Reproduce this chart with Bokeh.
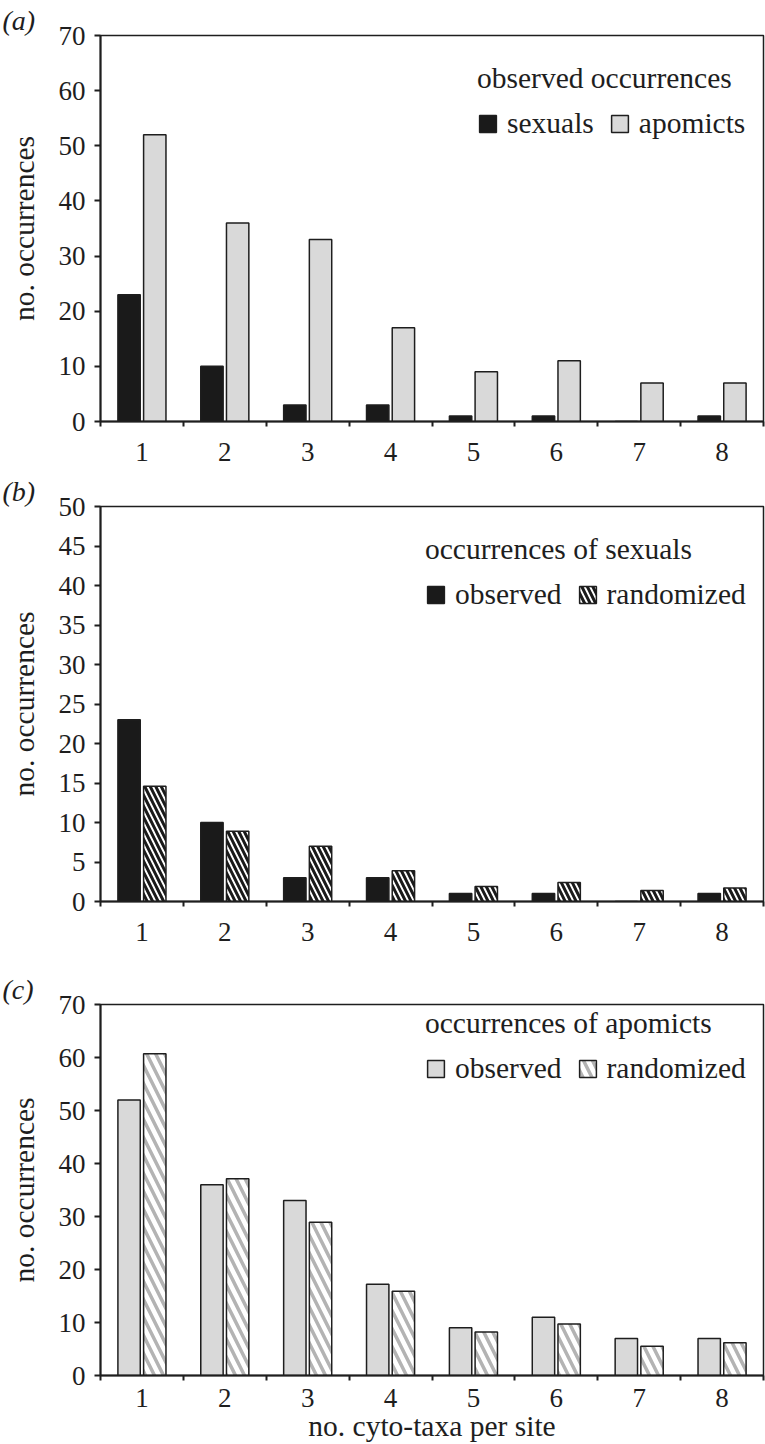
from bokeh.plotting import figure
from bokeh.models import FixedTicker, Legend, LegendItem, ColumnDataSource
from bokeh.layouts import column
from bokeh.transform import dodge
from bokeh.embed import file_html
from bokeh.resources import INLINE

# ---------------- data ----------------
sites = [1, 2, 3, 4, 5, 6, 7, 8]
site_bounds = [0.5, 1.5, 2.5, 3.5, 4.5, 5.5, 6.5, 7.5, 8.5]

a_sexuals = [23, 10, 3, 3, 1, 1, 0, 1]
a_apomicts = [52, 36, 33, 17, 9, 11, 7, 7]

b_observed = [23, 10, 3, 3, 1, 1, 0, 1]
b_randomized = [14.6, 8.9, 7.0, 3.9, 1.9, 2.4, 1.4, 1.7]

c_observed = [52, 36, 33, 17.2, 9, 11, 7, 7]
c_randomized = [60.7, 37.1, 28.9, 15.9, 8.2, 9.7, 5.5, 6.2]

a_yticks = [0, 10, 20, 30, 40, 50, 60, 70]
b_yticks = [0, 5, 10, 15, 20, 25, 30, 35, 40, 45, 50]
c_yticks = [0, 10, 20, 30, 40, 50, 60, 70]

FONT = "Liberation Serif, Times New Roman, DejaVu Serif, serif"
INK = "#1e1e1e"
BLACK_BAR = "#1a1a1a"
GRAY_BAR = "#d9d9d9"
HATCH_GRAY = "#b3b3b3"
BAR_W = 0.27
OFF = 0.155


def make_fig(height, top, bottom, ymax, yticks, tag, xlabel=None):
    p = figure(width=765, height=height, x_range=(0.5, 8.5), y_range=(0, ymax),
               output_backend="svg", toolbar_location=None, title=tag,
               min_border_left=100, min_border_right=2,
               min_border_top=top, min_border_bottom=bottom)
    p.grid.visible = False
    p.background_fill_color = "white"
    p.border_fill_color = "white"
    p.outline_line_color = INK
    p.outline_line_width = 1.5

    t = p.title
    t.align = "left"
    t.offset = -98
    t.standoff = 0
    t.text_font = FONT
    t.text_font_size = "28px"
    t.text_font_style = "italic"
    t.text_color = INK

    xa = p.xaxis[0]
    xa.ticker = FixedTicker(ticks=sites, minor_ticks=site_bounds)
    xa.major_tick_line_color = None
    xa.minor_tick_line_color = INK
    xa.minor_tick_line_width = 2
    xa.minor_tick_out = 5
    xa.minor_tick_in = 0
    xa.axis_line_color = INK
    xa.axis_line_width = 2
    xa.major_label_text_font = FONT
    xa.major_label_text_font_size = "27px"
    xa.major_label_text_color = INK
    xa.major_label_standoff = 15
    if xlabel:
        xa.major_label_standoff = 7
        xa.axis_label = xlabel
        xa.axis_label_text_font = FONT
        xa.axis_label_text_font_size = "29.5px"
        xa.axis_label_text_font_style = "normal"
        xa.axis_label_text_color = INK
        xa.axis_label_standoff = 0

    ya = p.yaxis[0]
    ya.ticker = FixedTicker(ticks=yticks)
    ya.axis_line_color = INK
    ya.axis_line_width = 2
    ya.major_tick_line_color = INK
    ya.major_tick_line_width = 2
    ya.major_tick_out = 6
    ya.major_tick_in = 0
    ya.minor_tick_line_color = None
    ya.major_label_text_font = FONT
    ya.major_label_text_font_size = "27px"
    ya.major_label_text_color = INK
    ya.major_label_standoff = 9
    ya.axis_label = "no. occurrences"
    ya.axis_label_text_font = FONT
    ya.axis_label_text_font_size = "29.5px"
    ya.axis_label_text_font_style = "normal"
    ya.axis_label_text_color = INK
    ya.axis_label_standoff = 16
    return p


def add_legend(p, title, items, vx, vy):
    leg = Legend(items=[LegendItem(label=l, renderers=[r]) for l, r in items],
                 orientation="horizontal", location=(vx, vy), title=title,
                 title_text_font=FONT, title_text_font_size="29.5px",
                 title_text_font_style="normal", title_text_color=INK, title_standoff=12,
                 label_text_font=FONT, label_text_font_size="29.5px", label_text_color=INK,
                 glyph_width=21, glyph_height=21, label_standoff=9, spacing=15,
                 padding=0, margin=0, border_line_color=None, background_fill_alpha=0)
    p.add_layout(leg)


# ---------------- panel (a) ----------------
pa = make_fig(471, 35, 50, 70, a_yticks, "(a)")
src_a = ColumnDataSource(dict(site=sites, sex=a_sexuals, apo=a_apomicts))
ra1 = pa.vbar(x=dodge("site", -OFF), top="sex", width=BAR_W, source=src_a,
              fill_color=BLACK_BAR, line_color=INK, line_width=1.5)
ra2 = pa.vbar(x=dodge("site", OFF), top="apo", width=BAR_W, source=src_a,
              fill_color=GRAY_BAR, line_color=INK, line_width=1.5)
add_legend(pa, "observed occurrences", [("sexuals", ra1), ("apomicts", ra2)], 377, 281)

# ---------------- panel (b) ----------------
pb = make_fig(480, 35, 50, 50, b_yticks, "(b)")
src_b = ColumnDataSource(dict(site=sites, obs=b_observed, rnd=b_randomized))
rb1 = pb.vbar(x=dodge("site", -OFF), top="obs", width=BAR_W, source=src_b,
              fill_color=BLACK_BAR, line_color=INK, line_width=1.5)
rb2 = pb.vbar(x=dodge("site", OFF), top="rnd", width=BAR_W, source=src_b,
              fill_color="white", line_color=INK, line_width=1.5,
              hatch_pattern="left_diagonal_line", hatch_color=BLACK_BAR,
              hatch_weight=3, hatch_scale=11)
add_legend(pb, "occurrences of sexuals", [("observed", rb1), ("randomized", rb2)], 325, 290)

# ---------------- panel (c) ----------------
pc = make_fig(493, 53, 57, 70, c_yticks, "(c)", xlabel="no. cyto-taxa per site")
src_c = ColumnDataSource(dict(site=sites, obs=c_observed, rnd=c_randomized))
rc1 = pc.vbar(x=dodge("site", -OFF), top="obs", width=BAR_W, source=src_c,
              fill_color=GRAY_BAR, line_color=INK, line_width=1.5)
rc2 = pc.vbar(x=dodge("site", OFF), top="rnd", width=BAR_W, source=src_c,
              fill_color="white", line_color=INK, line_width=1.5,
              hatch_pattern="left_diagonal_line", hatch_color=HATCH_GRAY,
              hatch_weight=3.5, hatch_scale=18)
add_legend(pc, "occurrences of apomicts", [("observed", rc1), ("randomized", rc2)], 325, 290)

layout = column(pa, pb, pc, spacing=0)
open("out.html", "w").write(file_html(layout, INLINE))
